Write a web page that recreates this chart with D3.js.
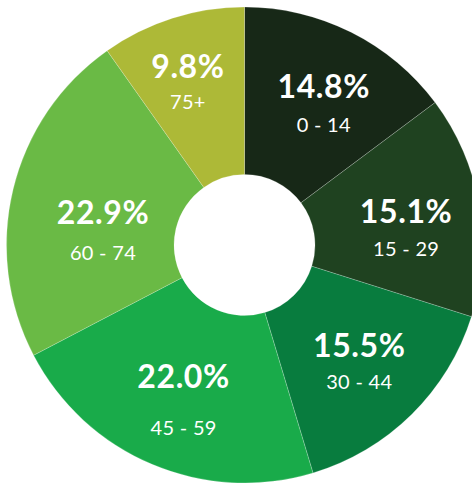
<!DOCTYPE html>
<html>
<head>
<meta charset="utf-8">
<script src="https://cdn.jsdelivr.net/npm/d3@7"></script>
<style>
  html, body { margin: 0; padding: 0; background: #fff; overflow: hidden; }
  .pct { font-family: Lato, "Open Sans", sans-serif; font-weight: 700; fill: #fff; letter-spacing: 0.6px; }
  .grp { font-family: Lato, "Open Sans", sans-serif; font-weight: 400; fill: #fff; letter-spacing: 0.3px; }
</style>
</head>
<body>
<div id="chart-area"></div>
<script>
// age groups and their share of the population (%)
var ageGroups = ["0 - 14", "15 - 29", "30 - 44", "45 - 59", "60 - 74", "75+"];
var shares = [14.8, 15.1, 15.5, 22.0, 22.9, 9.8];
var colors = ["#172817", "#1f4220", "#087c3e", "#19ab4a", "#6aba45", "#adb937"];

// label placement (layout only): radius and angle nudge per slice, gap to the age text
var labelRadius = [177, 165, 153, 145, 145, 187];
var labelNudge = [0, -2, -4, 2, -1, 0];
var labelGap = [34, 33, 32, 47, 36, 31];

var width = 472,
    height = 483;

var cx = 244.5, cy = 245,
    outerR = 238, innerR = 70.5;

var svg = d3.select("#chart-area").append("svg")
    .attr("width", width)
    .attr("height", height)
    .append("g")
    .attr("transform", "translate(" + cx + "," + cy + ")");

var data = ageGroups.map(function(g, i) {
    return {group: g, value: shares[i], color: colors[i], i: i};
});

var pie = d3.pie()
    .sort(null)
    .value(function(d) { return d.value; });

var arc = d3.arc()
    .innerRadius(innerR)
    .outerRadius(outerR);

var slices = pie(data);

svg.selectAll("path.slice")
    .data(slices)
    .enter()
    .append("path")
    .attr("class", "slice")
    .attr("d", arc)
    .attr("fill", function(d) { return d.data.color; })
    .attr("stroke", "#ffffff")
    .attr("stroke-opacity", 0.35)
    .attr("stroke-width", 0.6);

// where each label sits
function labelPos(d) {
    var i = d.data.i;
    var a = (d.startAngle + d.endAngle) / 2 + labelNudge[i] * Math.PI / 180;
    var r = labelRadius[i];
    return [r * Math.sin(a), -r * Math.cos(a)];
}

var labels = svg.selectAll("g.label")
    .data(slices)
    .enter()
    .append("g")
    .attr("class", "label")
    .attr("transform", function(d) {
        var p = labelPos(d);
        return "translate(" + p[0] + "," + p[1] + ")";
    });

labels.append("text")
    .attr("class", "pct")
    .attr("text-anchor", "middle")
    .attr("y", 11)
    .style("font-size", "32px")
    .text(function(d) { return d3.format(".1f")(d.data.value) + "%"; });

labels.append("text")
    .attr("class", "grp")
    .attr("text-anchor", "middle")
    .attr("y", function(d) { return 11 + labelGap[d.data.i]; })
    .style("font-size", "20px")
    .text(function(d) { return d.data.group; });
</script>
</body>
</html>
